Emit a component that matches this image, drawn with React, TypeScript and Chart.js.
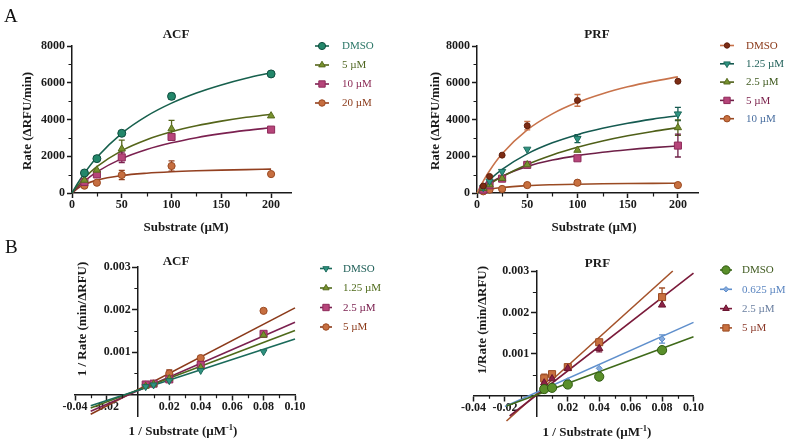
import React, { useEffect, useRef } from 'react';
import { Chart, registerables } from 'chart.js';

Chart.register(...registerables);

const W = 787;
const H = 441;
const SERIF = '"Liberation Serif", "Times New Roman", Times, serif';
const INK = '#1a1a1a';

// ---------------- Panel A · ACF (Michaelis–Menten) ----------------
const acfSubstrate = [12.5, 25, 50, 100, 200];
const acfDMSO = [1090, 1870, 3250, 5260, 6480];
const acfDMSOErr = [0, 0, 0, 160, 0];
const acf5uM = [700, 1250, 2400, 3500, 4200];
const acf5uMErr = [0, 0, 480, 450, 0];
const acf10uM = [600, 1010, 1940, 3050, 3450];
const acf10uMErr = [0, 0, 280, 0, 0];
const acf20uM = [400, 560, 980, 1470, 1030];
const acf20uMErr = [0, 0, 250, 280, 0];
const acfFitX = [0, 6.25, 12.5, 25, 50, 75, 100, 125, 150, 175, 200];
const acfFitDMSO = [0, 570, 1079, 1945, 3250, 4186, 4891, 5443, 5881, 6245, 6543];
const acfFit5uM = [0, 435, 811, 1429, 2308, 2903, 3333, 3659, 3913, 4118, 4286];
const acfFit10uM = [0, 345, 646, 1146, 1870, 2369, 2733, 3011, 3230, 3407, 3553];
const acfFit20uM = [0, 271, 459, 700, 950, 1078, 1156, 1208, 1246, 1274, 1297];
const acfLabels = ['DMSO', '5 µM', '10 µM', '20 µM'];

// ---------------- Panel A · PRF ----------------
const prfSubstrate = [6.25, 12.5, 25, 50, 100, 200];
const prfDMSO = [380, 900, 2060, 3660, 5040, 6080];
const prfDMSOErr = [0, 60, 0, 230, 320, 0];
const prf125 = [300, 640, 1170, 2380, 2960, 4300];
const prf125Err = [0, 0, 0, 0, 220, 360];
const prf25 = [250, 450, 800, 1540, 2330, 3560];
const prf25Err = [0, 0, 0, 0, 0, 420];
const prf5 = [180, 420, 780, 1530, 1890, 2580];
const prf5Err = [0, 0, 0, 150, 0, 620];
const prf10 = [90, 180, 220, 430, 560, 430];
const prfFitX = [0, 3, 6.25, 12.5, 25, 50, 75, 100, 125, 150, 175, 200];
const prfFitDMSO = [0, 325, 651, 1213, 2131, 3430, 4304, 4933, 5407, 5777, 6073, 6318];
const prfFit125 = [0, 188, 380, 716, 1283, 2130, 2730, 3175, 3519, 3797, 4021, 4208];
const prfFit25 = [0, 122, 249, 479, 889, 1556, 2074, 2489, 2829, 3112, 3351, 3556];
const prfFit5 = [0, 143, 285, 526, 913, 1444, 1791, 2036, 2217, 2357, 2469, 2560];
const prfFit10 = [0, 64, 120, 200, 300, 400, 450, 480, 500, 514, 525, 533];
const prfLabels = ['DMSO', '1.25 µM', '2.5 µM', '5 µM', '10 µM'];

// ---------------- Panel B · ACF (Lineweaver–Burk) ----------------
const acfInvS = [0.005, 0.01, 0.02, 0.04, 0.08];
const acfInvDMSO = [0.00019, 0.00023, 0.00033, 0.00057, 0.00101];
const acfInv125 = [0.0002, 0.00025, 0.00038, 0.00064, 0.0014];
const acfInv25 = [0.00024, 0.00026, 0.00036, 0.0007, 0.00143];
const acfInv25Err = [0, 0, 0, 0.00006, 0];
const acfInv5 = [0.00023, 0.00026, 0.0005, 0.00086, 0.00197];
const acfInv5Err = [0, 0, 0.00008, 0.00005, 0];
const acfLineX = [-0.03, 0.1];
const acfLineDMSO = [-0.00026, 0.00131];
const acfLine125 = [-0.00031, 0.00151];
const acfLine25 = [-0.00039, 0.0017];
const acfLine5 = [-0.00046, 0.00204];
const acfInvLabels = ['DMSO', '1.25 µM', '2.5 µM', '5 µM'];

// ---------------- Panel B · PRF ----------------
const prfInvS = [0.005, 0.01, 0.02, 0.04, 0.08];
const prfInvDMSO = [0.00015, 0.00018, 0.00026, 0.00045, 0.00109];
const prfInv0625 = [0.00017, 0.00021, 0.00035, 0.00065, 0.00136];
const prfInv0625Err = [0, 0, 0, 0, 0.0001];
const prfInv25 = [0.0003, 0.0004, 0.00065, 0.00113, 0.00218];
const prfInv25Err = [0, 0, 0, 0.00008, 0];
const prfInv5 = [0.00041, 0.00051, 0.00068, 0.00128, 0.00237];
const prfInv5Err = [0.0001, 0.00005, 0.00005, 0.00004, 0.00022];
const prfLineXDMSO = [-0.019, 0.1];
const prfLineDMSO = [-0.00026, 0.00141];
const prfLineX0625 = [-0.02, 0.1];
const prfLine0625 = [-0.00027, 0.00176];
const prfLineX25 = [-0.017, 0.1];
const prfLine25 = [-0.0005, 0.00295];
const prfLineX5 = [-0.019, 0.0868];
const prfLine5 = [-0.00062, 0.003];
const prfInvLabels = ['DMSO', '0.625 µM', '2.5 µM', '5 µM'];

// ---------------- Tick values ----------------
const mmXMajor = [0, 50, 100, 150, 200];
const mmXMinor = [25, 75, 125, 175];
const mmYMajor = [0, 2000, 4000, 6000, 8000];
const mmYMinor = [1000, 3000, 5000, 7000];
const lbXMajor = [-0.04, -0.02, 0.02, 0.04, 0.06, 0.08, 0.1];
const lbXMinor = [-0.03, -0.01, 0.01, 0.03, 0.05, 0.07, 0.09];
const lbYMajor = [0.001, 0.002, 0.003];
const lbYMinor = [0.0005, 0.0015, 0.0025];

type Marker = 'circle' | 'triangle' | 'triangleDown' | 'rect' | 'diamond';
interface Series {
  label: string;
  x: number[];
  y: number[];
  err?: number[];
  fx: number[];
  fy: number[];
  marker: Marker;
  r: number;
  fill: string;
  stroke: string;
  line: string;
  text: string;
}
interface Panel {
  area: { left: number; top: number; right: number; bottom: number };
  xMin: number; xMax: number; yMin: number; yMax: number;
  xMajor: number[]; xMinor: number[]; yMajor: number[]; yMinor: number[];
  xDigits: number; yDigits: number;
  cross: boolean;
  smooth: boolean;
  title: string; titleX: number; titleY: number;
  xTitle: { t: string; sup?: boolean }[]; xTitleX: number; xTitleY: number;
  yTitle: string; yTitleX: number; yTitleY: number;
  legend: { x1: number; x2: number; tx: number; y0: number; dy: number };
  series: Series[];
  letter?: { t: string; x: number; y: number }[];
}

const PANELS: Panel[] = [
  {
    area: { left: 72, top: 46, right: 291, bottom: 193 },
    xMin: 0, xMax: 220, yMin: 0, yMax: 8000,
    xMajor: mmXMajor, xMinor: mmXMinor, yMajor: mmYMajor, yMinor: mmYMinor,
    xDigits: 0, yDigits: 0, cross: false, smooth: true,
    title: 'ACF', titleX: 176, titleY: 35,
    xTitle: [{ t: 'Substrate (µM)' }], xTitleX: 186, xTitleY: 226,
    yTitle: 'Rate (ΔRFU/min)', yTitleX: 28, yTitleY: 121,
    legend: { x1: 315, x2: 329, tx: 342, y0: 46, dy: 19 },
    letter: [{ t: 'A', x: 4, y: 22 }, { t: 'B', x: 5, y: 253 }],
    series: [
      { label: acfLabels[0], x: acfSubstrate, y: acfDMSO, err: acfDMSOErr, fx: acfFitX, fy: acfFitDMSO, marker: 'circle', r: 4, fill: '#23876a', stroke: '#0f4d3e', line: '#17604d', text: '#2a7666' },
      { label: acfLabels[1], x: acfSubstrate, y: acf5uM, err: acf5uMErr, fx: acfFitX, fy: acfFit5uM, marker: 'triangle', r: 4.2, fill: '#77922f', stroke: '#56691c', line: '#55651a', text: '#4f6620' },
      { label: acfLabels[2], x: acfSubstrate, y: acf10uM, err: acf10uMErr, fx: acfFitX, fy: acfFit10uM, marker: 'rect', r: 5, fill: '#b6457a', stroke: '#8e2a5a', line: '#7b2150', text: '#8b2a55' },
      { label: acfLabels[3], x: acfSubstrate, y: acf20uM, err: acf20uMErr, fx: acfFitX, fy: acfFit20uM, marker: 'circle', r: 3.6, fill: '#c66e40', stroke: '#9a4a22', line: '#934020', text: '#8b3a1a' },
    ],
  },
  {
    area: { left: 477, top: 46, right: 698, bottom: 193 },
    xMin: 0, xMax: 220, yMin: 0, yMax: 8000,
    xMajor: mmXMajor, xMinor: mmXMinor, yMajor: mmYMajor, yMinor: mmYMinor,
    xDigits: 0, yDigits: 0, cross: false, smooth: true,
    title: 'PRF', titleX: 597, titleY: 35,
    xTitle: [{ t: 'Substrate (µM)' }], xTitleX: 594, xTitleY: 226,
    yTitle: 'Rate (ΔRFU/min)', yTitleX: 435.5, yTitleY: 121,
    legend: { x1: 720, x2: 734, tx: 746, y0: 45.5, dy: 18.3 },
    series: [
      { label: prfLabels[0], x: prfSubstrate, y: prfDMSO, err: prfDMSOErr, fx: prfFitX, fy: prfFitDMSO, marker: 'circle', r: 3, fill: '#7d2c14', stroke: '#5e1e0c', line: '#c8734b', text: '#8b3a1a' },
      { label: prfLabels[1], x: prfSubstrate, y: prf125, err: prf125Err, fx: prfFitX, fy: prfFit125, marker: 'triangleDown', r: 4.2, fill: '#2f9381', stroke: '#1d6b5c', line: '#155a50', text: '#1f5f58' },
      { label: prfLabels[2], x: prfSubstrate, y: prf25, err: prf25Err, fx: prfFitX, fy: prfFit25, marker: 'triangle', r: 4.2, fill: '#77922f', stroke: '#56691c', line: '#4f5f18', text: '#3f5a1f' },
      { label: prfLabels[3], x: prfSubstrate, y: prf5, err: prf5Err, fx: prfFitX, fy: prfFit5, marker: 'rect', r: 5, fill: '#b6457a', stroke: '#8e2a5a', line: '#6e1f47', text: '#7a1f4a' },
      { label: prfLabels[4], x: prfSubstrate, y: prf10, fx: prfFitX, fy: prfFit10, marker: 'circle', r: 3.6, fill: '#c8703f', stroke: '#9a4a22', line: '#9a4a22', text: '#4a6fa0' },
    ],
  },
  {
    area: { left: 75, top: 267, right: 295, bottom: 416 },
    xMin: -0.04, xMax: 0.1, yMin: -0.0005, yMax: 0.003,
    xMajor: lbXMajor, xMinor: lbXMinor, yMajor: lbYMajor, yMinor: lbYMinor,
    xDigits: 2, yDigits: 3, cross: true, smooth: false,
    title: 'ACF', titleX: 176, titleY: 262,
    xTitle: [{ t: '1 / Substrate (µM' }, { t: '-1', sup: true }, { t: ')' }], xTitleX: 183, xTitleY: 430,
    yTitle: '1 / Rate (min/ΔRFU)', yTitleX: 83, yTitleY: 319,
    legend: { x1: 320, x2: 332, tx: 343, y0: 268.5, dy: 19.5 },
    series: [
      { label: acfInvLabels[0], x: acfInvS, y: acfInvDMSO, fx: acfLineX, fy: acfLineDMSO, marker: 'triangleDown', r: 4, fill: '#2f9381', stroke: '#1d6b5c', line: '#1a6a5a', text: '#1f5f58' },
      { label: acfInvLabels[1], x: acfInvS, y: acfInv125, fx: acfLineX, fy: acfLine125, marker: 'triangle', r: 4, fill: '#77922f', stroke: '#56691c', line: '#4e6a1a', text: '#4e6a1a' },
      { label: acfInvLabels[2], x: acfInvS, y: acfInv25, err: acfInv25Err, fx: acfLineX, fy: acfLine25, marker: 'rect', r: 5, fill: '#b6457a', stroke: '#8e2a5a', line: '#7b2150', text: '#7b2150' },
      { label: acfInvLabels[3], x: acfInvS, y: acfInv5, err: acfInv5Err, fx: acfLineX, fy: acfLine5, marker: 'circle', r: 3.6, fill: '#c66e40', stroke: '#9a4a22', line: '#8b3a1a', text: '#8b3a1a' },
    ],
  },
  {
    area: { left: 473.5, top: 271, right: 693.5, bottom: 416 },
    xMin: -0.04, xMax: 0.1, yMin: -0.0005, yMax: 0.003,
    xMajor: lbXMajor, xMinor: lbXMinor, yMajor: lbYMajor, yMinor: lbYMinor,
    xDigits: 2, yDigits: 3, cross: true, smooth: false,
    title: 'PRF', titleX: 597.5, titleY: 264,
    xTitle: [{ t: '1 / Substrate (µM' }, { t: '-1', sup: true }, { t: ')' }], xTitleX: 597, xTitleY: 431.5,
    yTitle: '1/Rate (min/ΔRFU)', yTitleX: 482.5, yTitleY: 320,
    legend: { x1: 720, x2: 732, tx: 742, y0: 270, dy: 19.3 },
    series: [
      { label: prfInvLabels[0], x: prfInvS, y: prfInvDMSO, fx: prfLineXDMSO, fy: prfLineDMSO, marker: 'circle', r: 4.6, fill: '#5a8f2a', stroke: '#2f5a10', line: '#3f6a1a', text: '#3f5a1f' },
      { label: prfInvLabels[1], x: prfInvS, y: prfInv0625, err: prfInv0625Err, fx: prfLineX0625, fy: prfLine0625, marker: 'diamond', r: 3, fill: '#86aadb', stroke: '#5f8fcc', line: '#5f8fcc', text: '#5a85c0' },
      { label: prfInvLabels[2], x: prfInvS, y: prfInv25, err: prfInv25Err, fx: prfLineX25, fy: prfLine25, marker: 'triangle', r: 4.2, fill: '#8b2245', stroke: '#6a1530', line: '#7a1a3a', text: '#6a7fa0' },
      { label: prfInvLabels[3], x: prfInvS, y: prfInv5, err: prfInv5Err, fx: prfLineX5, fy: prfLine5, marker: 'rect', r: 5, fill: '#c8703f', stroke: '#9a4a22', line: '#a4522a', text: '#8b3a2a' },
    ],
  },
];

function drawMarker(ctx: CanvasRenderingContext2D, m: Marker, x: number, y: number, r: number, fill: string, stroke: string) {
  ctx.beginPath();
  if (m === 'circle') {
    ctx.arc(x, y, r, 0, Math.PI * 2);
  } else if (m === 'triangle' || m === 'triangleDown') {
    const s = m === 'triangle' ? 1 : -1;
    ctx.moveTo(x, y - s * r);
    ctx.lineTo(x + r * 0.866, y + s * r * 0.5);
    ctx.lineTo(x - r * 0.866, y + s * r * 0.5);
    ctx.closePath();
  } else if (m === 'rect') {
    const h = r * Math.SQRT1_2;
    ctx.rect(x - h, y - h, 2 * h, 2 * h);
  } else {
    ctx.moveTo(x, y - r);
    ctx.lineTo(x + r, y);
    ctx.lineTo(x, y + r);
    ctx.lineTo(x - r, y);
    ctx.closePath();
  }
  ctx.fillStyle = fill;
  ctx.fill();
  ctx.lineWidth = 1;
  ctx.strokeStyle = stroke;
  ctx.stroke();
}

function pointStyleOf(m: Marker) {
  if (m === 'circle') return 'circle';
  if (m === 'rect') return 'rect';
  if (m === 'diamond') return 'rectRot';
  return 'triangle';
}

function buildConfig(p: Panel): any {
  const datasets: any[] = [];
  p.series.forEach((s) => {
    datasets.push({
      label: s.label,
      data: s.x.map((v, i) => ({ x: v, y: s.y[i] })),
      showLine: false,
      pointStyle: pointStyleOf(s.marker),
      pointRotation: s.marker === 'triangleDown' ? 180 : 0,
      pointRadius: s.r,
      pointBackgroundColor: s.fill,
      pointBorderColor: s.stroke,
      pointBorderWidth: 1,
      order: 0,
      clip: false,
    });
    datasets.push({
      label: s.label + ' fit',
      data: s.fx.map((v, i) => ({ x: v, y: s.fy[i] })),
      showLine: true,
      pointRadius: 0,
      borderColor: s.line,
      borderWidth: 1.6,
      cubicInterpolationMode: p.smooth ? 'monotone' : 'default',
      tension: 0,
      order: 1,
      clip: false,
    });
  });

  const tickFont = { family: SERIF, size: 12, weight: 'bold' as const };
  const grid = { display: true, drawOnChartArea: false, drawTicks: true, tickLength: 5, tickWidth: 1.5, tickColor: INK };
  const border = { display: true, color: INK, width: 1.5 };

  const decor = {
    id: 'decor',
    beforeDatasetsDraw(chart: any) {
      const ctx = chart.ctx as CanvasRenderingContext2D;
      const xs = chart.scales.x;
      const ys = chart.scales.y;
      ctx.save();
      p.series.forEach((s) => {
        if (!s.err) return;
        ctx.strokeStyle = s.line;
        ctx.lineWidth = 1.3;
        s.err.forEach((e, i) => {
          if (!e) return;
          const px = xs.getPixelForValue(s.x[i]);
          const top = ys.getPixelForValue(s.y[i] + e);
          const bot = ys.getPixelForValue(s.y[i] - e);
          ctx.beginPath();
          ctx.moveTo(px, top);
          ctx.lineTo(px, bot);
          ctx.moveTo(px - 3, top);
          ctx.lineTo(px + 3, top);
          ctx.moveTo(px - 3, bot);
          ctx.lineTo(px + 3, bot);
          ctx.stroke();
        });
      });
      ctx.restore();
    },
    afterDraw(chart: any) {
      const ctx = chart.ctx as CanvasRenderingContext2D;
      const xs = chart.scales.x;
      const ys = chart.scales.y;
      const ca = chart.chartArea;
      const axisY = p.cross ? ys.getPixelForValue(0) : ca.bottom;
      const axisX = p.cross ? xs.getPixelForValue(0) : ca.left;
      ctx.save();
      // minor ticks
      ctx.strokeStyle = INK;
      ctx.lineWidth = 1.2;
      ctx.beginPath();
      p.xMinor.forEach((v) => {
        const px = Math.round(xs.getPixelForValue(v)) + 0.5;
        ctx.moveTo(px, axisY);
        ctx.lineTo(px, axisY + 3.5);
      });
      p.yMinor.forEach((v) => {
        const py = Math.round(ys.getPixelForValue(v)) + 0.5;
        ctx.moveTo(axisX, py);
        ctx.lineTo(axisX - 3.5, py);
      });
      ctx.stroke();
      // y labels for crossing axes
      ctx.fillStyle = INK;
      ctx.font = `bold 12px ${SERIF}`;
      if (p.cross) {
        ctx.textAlign = 'right';
        ctx.textBaseline = 'middle';
        p.yMajor.forEach((v) => {
          ctx.fillText(v.toFixed(p.yDigits), axisX - 7, ys.getPixelForValue(v));
        });
      }
      // title
      ctx.font = `bold 13px ${SERIF}`;
      ctx.textAlign = 'center';
      ctx.textBaseline = 'middle';
      ctx.fillText(p.title, p.titleX, p.titleY);
      // x title with optional superscript
      const normal = `bold 13px ${SERIF}`;
      const small = `bold 8.5px ${SERIF}`;
      let total = 0;
      p.xTitle.forEach((seg) => {
        ctx.font = seg.sup ? small : normal;
        total += ctx.measureText(seg.t).width;
      });
      let cx = p.xTitleX - total / 2;
      ctx.textAlign = 'left';
      ctx.textBaseline = 'alphabetic';
      p.xTitle.forEach((seg) => {
        ctx.font = seg.sup ? small : normal;
        ctx.fillText(seg.t, cx, p.xTitleY + 4.5 - (seg.sup ? 5 : 0));
        cx += ctx.measureText(seg.t).width;
      });
      // y title
      ctx.save();
      ctx.translate(p.yTitleX, p.yTitleY);
      ctx.rotate(-Math.PI / 2);
      ctx.font = normal;
      ctx.textAlign = 'center';
      ctx.textBaseline = 'middle';
      ctx.fillText(p.yTitle, 0, 0);
      ctx.restore();
      // legend
      const L = p.legend;
      p.series.forEach((s, i) => {
        const y = L.y0 + i * L.dy;
        ctx.strokeStyle = s.line;
        ctx.lineWidth = 1.6;
        ctx.beginPath();
        ctx.moveTo(L.x1, y);
        ctx.lineTo(L.x2, y);
        ctx.stroke();
        drawMarker(ctx, s.marker, (L.x1 + L.x2) / 2, y, s.r * 0.9, s.fill, s.stroke);
        ctx.fillStyle = s.text;
        ctx.font = `11px ${SERIF}`;
        ctx.textAlign = 'left';
        ctx.textBaseline = 'middle';
        ctx.fillText(s.label, L.tx, y + 0.5);
      });
      // panel letters
      if (p.letter) {
        ctx.fillStyle = '#111';
        ctx.font = `19px ${SERIF}`;
        ctx.textAlign = 'left';
        ctx.textBaseline = 'alphabetic';
        p.letter.forEach((l) => ctx.fillText(l.t, l.x, l.y));
      }
      ctx.restore();
    },
  };

  // Box-positioned axes need real box sizes (labels are clipped to the box);
  // axes that cross at zero sit inside the chart area and take no space.
  const yBox = p.cross ? 0 : p.area.left;
  const xBox = p.cross ? 0 : H - p.area.bottom;

  return {
    type: 'scatter',
    data: { datasets },
    options: {
      animation: false,
      responsive: false,
      maintainAspectRatio: false,
      events: [],
      layout: {
        padding: {
          left: p.area.left - yBox,
          top: p.area.top,
          right: W - p.area.right,
          bottom: H - p.area.bottom - xBox,
        },
      },
      plugins: { legend: { display: false }, tooltip: { enabled: false }, title: { display: false } },
      scales: {
        x: {
          type: 'linear',
          min: p.xMin,
          max: p.xMax,
          position: p.cross ? { y: 0 } : 'bottom',
          afterBuildTicks: (s: any) => {
            s.ticks = p.xMajor.map((v) => ({ value: v }));
          },
          afterFit: (s: any) => {
            s.height = xBox;
          },
          grid,
          border,
          title: { display: false },
          ticks: {
            autoSkip: false,
            maxRotation: 0,
            padding: 0,
            color: INK,
            font: tickFont,
            callback: (v: any) => Number(v).toFixed(p.xDigits),
          },
        },
        y: {
          type: 'linear',
          min: p.yMin,
          max: p.yMax,
          position: p.cross ? { x: 0 } : 'left',
          afterBuildTicks: (s: any) => {
            s.ticks = p.yMajor.map((v) => ({ value: v }));
          },
          afterFit: (s: any) => {
            s.width = yBox;
          },
          grid,
          border,
          title: { display: false },
          ticks: {
            display: !p.cross,
            autoSkip: false,
            padding: 2,
            color: INK,
            font: tickFont,
            callback: (v: any) => Number(v).toFixed(p.yDigits),
          },
        },
      },
    },
    plugins: [decor],
  };
}

export default function App() {
  const refs = useRef<(HTMLCanvasElement | null)[]>([]);
  useEffect(() => {
    const charts = PANELS.map((p, i) => new Chart(refs.current[i] as HTMLCanvasElement, buildConfig(p)));
    return () => charts.forEach((c) => c.destroy());
  }, []);
  return (
    <div style={{ position: 'absolute', left: 0, top: 0, width: W, height: H, background: '#ffffff', overflow: 'hidden' }}>
      {PANELS.map((_, i) => (
        <canvas
          key={i}
          ref={(el) => {
            refs.current[i] = el;
          }}
          width={W}
          height={H}
          style={{ position: 'absolute', left: 0, top: 0, width: W, height: H }}
        />
      ))}
    </div>
  );
}
